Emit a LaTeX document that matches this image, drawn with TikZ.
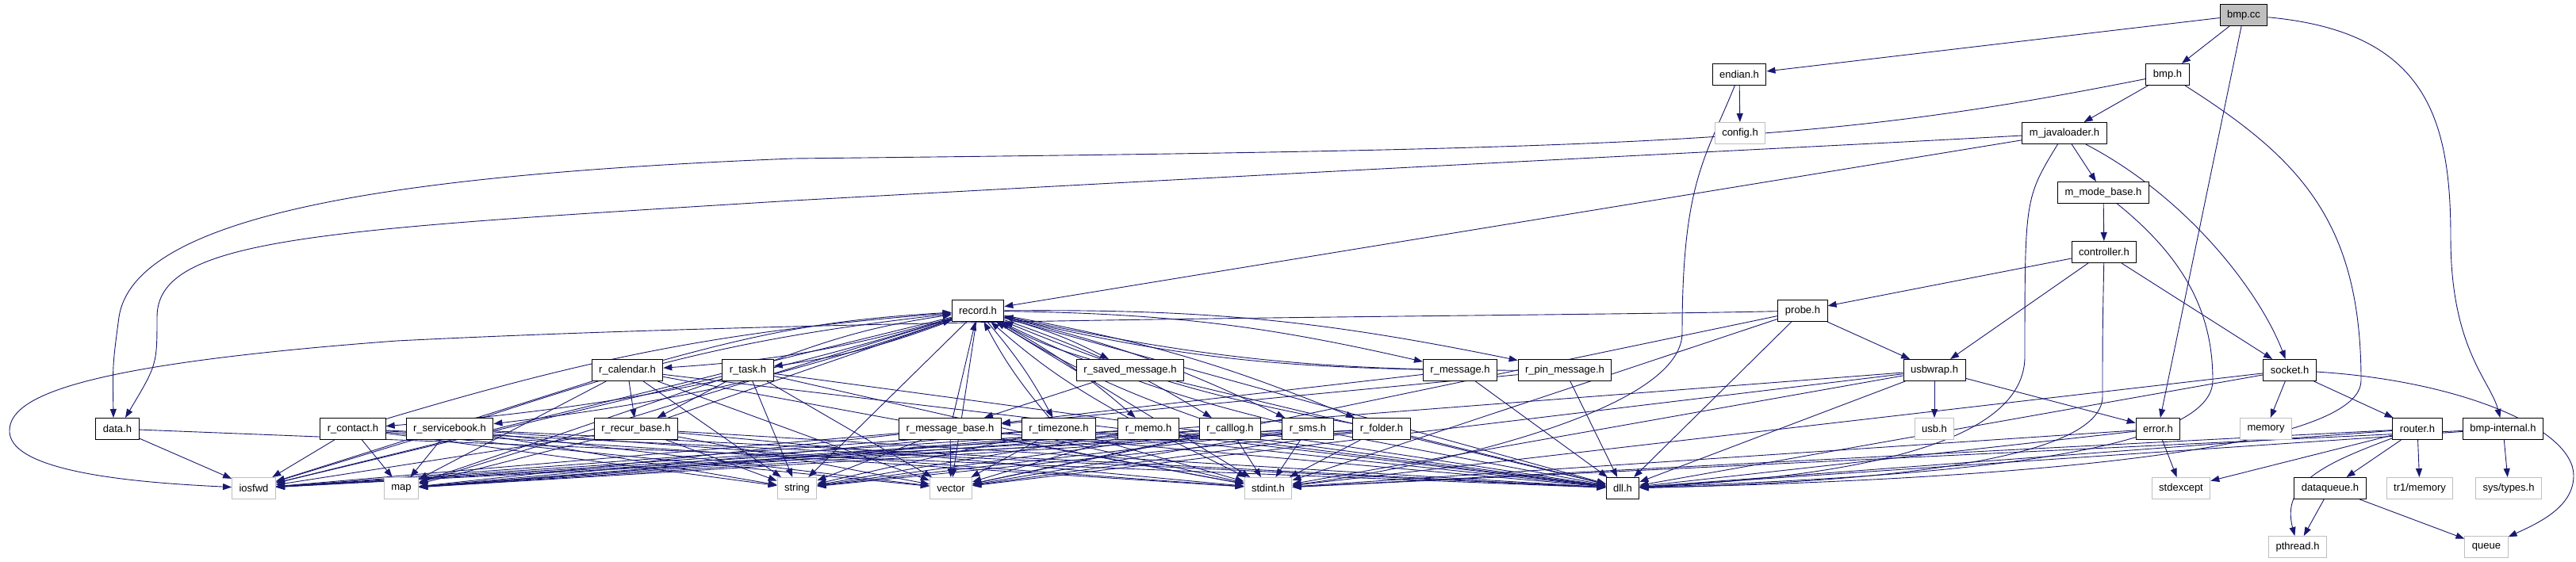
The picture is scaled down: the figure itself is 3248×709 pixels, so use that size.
\documentclass[tikz,border=0pt]{standalone}
\usepackage{fontspec}
\setmainfont{Liberation Sans}
\usetikzlibrary{arrows.meta,backgrounds}

\definecolor{navy}{HTML}{191970}
\definecolor{sysgray}{HTML}{BFBFBF}
\newcommand{\hdrfont}{\fontsize{13}{15}\selectfont}

\begin{document}
\begin{tikzpicture}[x=1pt,y=-1pt]
\tikzset{
  hdr/.style={draw=black,fill=white,line width=1pt,minimum height=27pt,inner xsep=9pt,inner ysep=0pt,font=\hdrfont},
  sys/.style={hdr,draw=sysgray},
  root/.style={hdr,fill=sysgray},
  dep/.style={draw=navy,line width=0.9pt,-{Triangle[length=11pt,width=8pt]}}
}
\useasboundingbox (0,0) rectangle (3248,709);
% top part
\node[root] (bmpcc) at (2829,19) {bmp.cc};
\node[hdr] (endian) at (2193,94) {endian.h};
\node[hdr] (bmph) at (2733,94) {bmp.h};
\node[sys] (config) at (2194,168) {config.h};
\node[hdr] (mjl) at (2603,168) {m\_javaloader.h};
\node[hdr] (mmode) at (2652,243) {m\_mode\_base.h};
\node[hdr] (controller) at (2653,318) {controller.h};
\node[hdr] (record) at (1233,392) {record.h};
\node[hdr] (probe) at (2273,392) {probe.h};
% row of records
\node[hdr] (rcalendar) at (791,467) {r\_calendar.h};
\node[hdr] (rtask) at (943,467) {r\_task.h};
\node[hdr] (rsaved) at (1425,467) {r\_saved\_message.h};
\node[hdr] (rmessage) at (1841,467) {r\_message.h};
\node[hdr] (rpin) at (1973,467) {r\_pin\_message.h};
\node[hdr] (usbwrap) at (2439,467) {usbwrap.h};
\node[hdr] (socket) at (2887,467) {socket.h};
\node[hdr] (data) at (148,541) {data.h};
\node[hdr] (rcontact) at (445,541) {r\_contact.h};
\node[hdr] (rservicebook) at (567,541) {r\_servicebook.h};
\node[hdr] (rrecur) at (802,541) {r\_recur\_base.h};
\node[hdr] (rmsgbase) at (1198,541) {r\_message\_base.h};
\node[hdr] (rtimezone) at (1335,541) {r\_timezone.h};
\node[hdr] (rmemo) at (1448,541) {r\_memo.h};
\node[hdr] (rcalllog) at (1551,541) {r\_calllog.h};
\node[hdr] (rsms) at (1649,541) {r\_sms.h};
\node[hdr] (rfolder) at (1742,541) {r\_folder.h};
\node[sys] (usb) at (2439,541) {usb.h};
\node[hdr] (error) at (2721,541) {error.h};
\node[sys] (memory) at (2857,541) {memory};
\node[hdr] (router) at (3048,541) {router.h};
\node[hdr] (bmpint) at (3156,541) {bmp-internal.h};
% system headers
\node[sys] (iosfwd) at (320,616) {iosfwd};
\node[sys] (map) at (506,616) {map};
\node[sys] (string) at (1005,616) {string};
\node[sys] (vector) at (1199,616) {vector};
\node[sys] (stdint) at (1599,616) {stdint.h};
\node[hdr] (dll) at (2046,616) {dll.h};
\node[sys] (stdexcept) at (2750,616) {stdexcept};
\node[hdr] (dataqueue) at (2938,616) {dataqueue.h};
\node[sys] (tr1mem) at (3051,616) {tr1/memory};
\node[sys] (systypes) at (3163,616) {sys/types.h};
\node[sys] (pthread) at (2897,690) {pthread.h};
\node[sys] (queue) at (3135,690) {queue};

\begin{scope}[on background layer]
\draw[dep] (bmpcc) -- (endian);
\draw[dep] (bmpcc) -- (bmph);
\draw[dep] (bmpcc) -- (error);
\draw[dep] (bmpcc) .. controls (3060,40) and (3090,150) .. (3090,300) .. controls (3090,440) and (3140,480) .. (bmpint);
\draw[dep] (endian) -- (config);
\draw[dep] (endian) .. controls (2150,200) and (2121,230) .. (2121,420) .. controls (2121,520) and (1800,590) .. (stdint);
\draw[dep] (bmph) -- (mjl);
\draw[dep] (bmph) .. controls (2300,180) and (2100,188) .. (1000,200) .. controls (500,220) and (170,270) .. (150,400) .. controls (142,460) .. ([xshift=-5pt]data.north);
\draw[dep] (bmph) .. controls (2900,200) and (2977,280) .. (2977,480) .. controls (2977,590) and (2300,610) .. (dll);
\draw[dep] (mjl) -- (mmode);
\draw[dep] (mjl) -- (record);
\draw[dep] (mjl) .. controls (2760,250) and (2850,370) .. (socket);
\draw[dep] (mjl) .. controls (2300,185) and (2000,198) .. (1000,253) .. controls (400,290) and (198,300) .. (198,400) .. controls (198,460) .. ([xshift=10pt]data.north);
\draw[dep] (mjl) .. controls (2553,250) .. (2553,450) .. controls (2553,580) and (2250,605) .. (dll);
\draw[dep] (mmode) -- (controller);
\draw[dep] (mmode) .. controls (2760,330) and (2790,400) .. (2790,480) .. controls (2790,590) and (2300,605) .. (dll);
\draw[dep] (controller) -- (probe);
\draw[dep] (controller) -- (usbwrap);
\draw[dep] (controller) -- (socket);
\draw[dep] (controller) .. controls (2651,420) .. (2651,500) .. controls (2651,590) and (2300,610) .. (dll);
% probe and usb side
\draw[dep] (probe) -- (usbwrap);
\draw[dep] (probe) .. controls (1900,400) and (1100,400) .. (500,430) .. controls (100,460) and (10,500) .. (12,545) .. controls (15,600) and (200,610) .. (iosfwd);
\foreach \t in {vector,stdint,dll}
  \draw[dep] (probe) -- (\t);
\foreach \t in {usb,error,dll,vector,stdint,map}
  \draw[dep] (usbwrap) -- (\t);
\foreach \t in {stdexcept,dll,stdint}
  \draw[dep] (error) -- (\t);
\foreach \t in {memory,router,dll,stdint}
  \draw[dep] (socket) -- (\t);
\draw[dep] (socket) .. controls (3100,480) and (3245,540) .. (3245,600) .. controls (3245,640) and (3200,660) .. (queue);
\foreach \t in {dataqueue,tr1mem,stdexcept,dll,stdint}
  \draw[dep] (router) -- (\t);
\draw[dep] (router) .. controls (2930,585) and (2876,610) .. (pthread);
\draw[dep] (dataqueue) -- (pthread);
\draw[dep] (dataqueue) -- (queue);
\foreach \t in {systypes,dll,stdint}
  \draw[dep] (bmpint) -- (\t);
% records
\foreach \s in {rcalendar,rtask,rcontact,rservicebook,rsaved,rmessage,rpin,rtimezone,rmemo,rcalllog,rsms,rfolder}{
  \draw[dep] (record) to[bend left=6] (\s);
  \draw[dep] (\s) to[bend left=6] (record);
}
\draw[dep] (rrecur) -- (record);
\draw[dep] (rmsgbase) -- (record);
\draw[dep] (rcalendar) -- (rrecur);
\draw[dep] (rtask) -- (rrecur);
\foreach \s in {rsaved,rmessage,rpin}{
  \draw[dep] (\s) -- (rmsgbase);
  \draw[dep] (\s) -- (dll);
}
\foreach \s in {record,rcalendar,rtask,rcontact,rservicebook,rrecur,rmsgbase,rtimezone,rmemo,rcalllog,rsms,rfolder}
  \foreach \t in {iosfwd,map,string,vector,stdint,dll}
    \draw[dep] (\s) -- (\t);
\draw[dep] (data) -- (iosfwd);
\draw[dep] (data) -- (dll);
\end{scope}
\end{tikzpicture}
\end{document}
